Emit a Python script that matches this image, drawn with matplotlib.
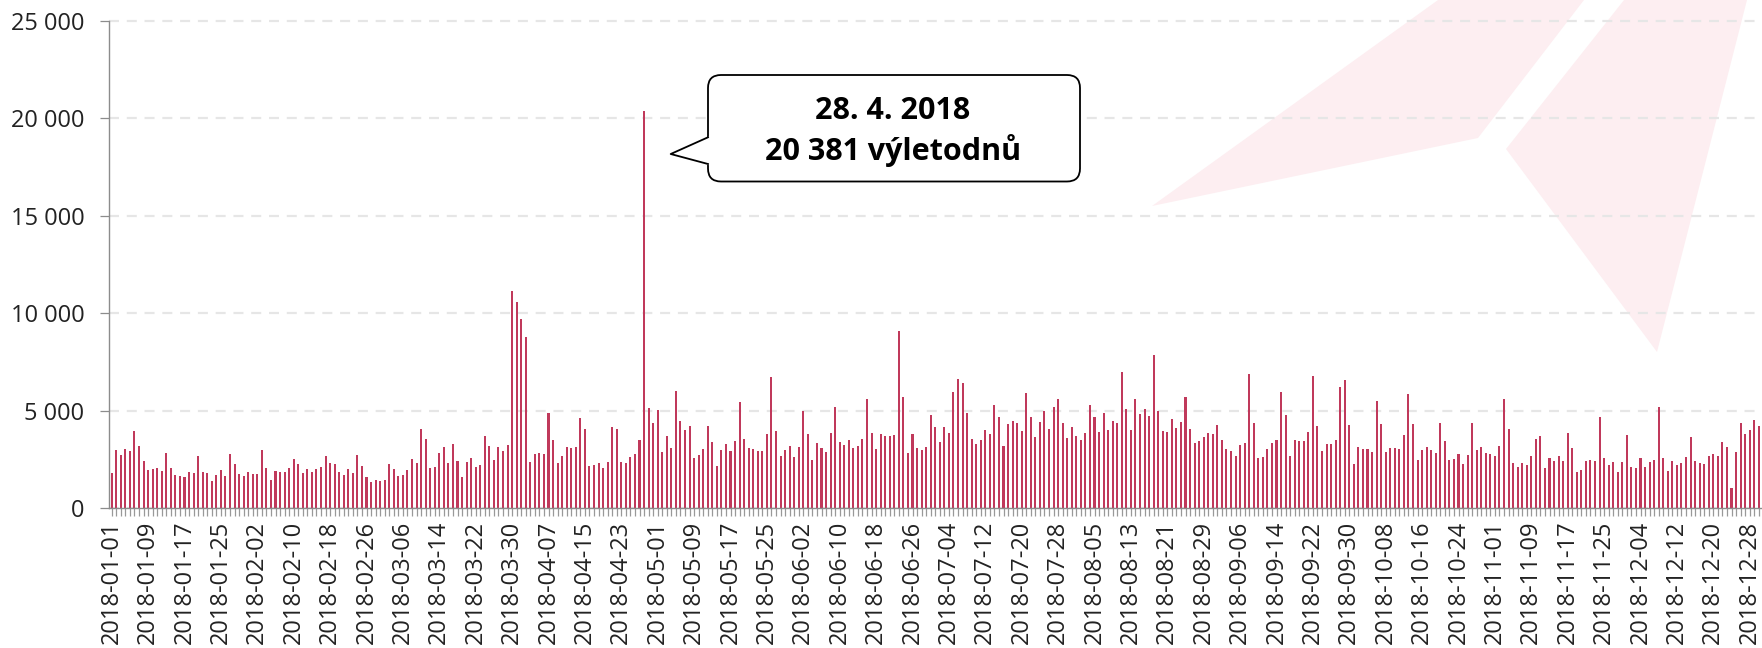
import pandas as pd
import numpy as np
import matplotlib
matplotlib.use('Agg')
import matplotlib.pyplot as plt
from matplotlib.patches import FancyBboxPatch, Polygon
from matplotlib.lines import Line2D

plt.rcParams['font.family'] = ['Open Sans', 'DejaVu Sans']

# Daily visitor-days (výletodny) 2018, one list per month
jan = [1830, 2985, 2725, 3025, 2920, 3940, 3185, 2400, 1980, 1990,
       2070, 1900, 2815, 2080, 1695, 1640, 1605, 1845, 1790, 2680,
       1885, 1790, 1390, 1720, 1955, 1640, 2770, 2260, 1740, 1665, 1865]
feb = [1740, 1740, 3010, 2060, 1460, 1920, 1870, 1850, 2060, 2550,
       2260, 1790, 2040, 1840, 2040, 2130, 2670, 2300, 2260, 1840,
       1700, 2010, 1800, 2720, 2160, 1580, 1360, 1450]
mar = [1380, 1430, 2260, 1990, 1650, 1720, 1970, 2520, 2310, 4050,
       3570, 2090, 2140, 2840, 3160, 2310, 3320, 2450, 1620, 2360,
       2600, 2140, 2210, 3690, 3210, 2470, 3160, 2960, 3230, 11120, 10580]
apr = [9690, 8760, 2350, 2770, 2860, 2810, 4900, 3490, 2330, 2670,
       3160, 3080, 3160, 4630, 4050, 2160, 2210, 2330, 2090, 2380,
       4150, 4050, 2350, 2310, 2620, 2810, 3520, 20381, 5150, 4350]
may = [5030, 2890, 3720, 3080, 6040, 4460, 4000, 4220, 2590, 2720,
       3060, 4200, 3380, 2160, 2990, 3280, 2960, 3450, 5430, 3540,
       3110, 3040, 2930, 2960, 3810, 6730, 3950, 2700, 2990, 3210, 2640]
jun = [3160, 4980, 3830, 2480, 3350, 3110, 2870, 3840, 5220, 3380,
       3230, 3520, 3110, 3210, 3550, 5630, 3840, 3030, 3790, 3690,
       3720, 3740, 9100, 5710, 2820, 3790, 3110, 3010, 3160, 4780]
jul = [4150, 3390, 4180, 3880, 5940, 6630, 6410, 4900, 3570, 3280,
       3520, 4000, 3790, 5290, 4680, 3180, 4340, 4470, 4390, 3980,
       5900, 4690, 3670, 4440, 4980, 4050, 5190, 5580, 4390, 3620, 4180]
aug = [3720, 3490, 3880, 5310, 4690, 3930, 4900, 4030, 4490, 4350,
       7010, 5100, 4030, 5630, 4860, 5070, 4710, 7870, 5000, 3980,
       3930, 4590, 4100, 4420, 5710, 4080, 3370, 3470, 3640, 3880, 3830]
sep = [4290, 3490, 3060, 2940, 2700, 3250, 3370, 6870, 4390, 2600,
       2650, 3060, 3330, 3520, 5970, 4805, 2700, 3520, 3470, 3440,
       3930, 6790, 4220, 2930, 3300, 3320, 3520, 6240, 6580, 4270]
oct_ = [2280, 3160, 3030, 3060, 2910, 5510, 4300, 2870, 3100, 3110,
        3040, 3780, 5880, 4300, 2500, 2980, 3130, 3010, 2860, 4400,
        3440, 2470, 2550, 2760, 2260, 2720, 4400, 2980, 3150, 2860, 2810]
nov = [2700, 3180, 5610, 4060, 2310, 2130, 2300, 2230, 2700, 3550,
       3710, 2070, 2600, 2450, 2700, 2450, 3860, 3080, 1870, 1970,
       2450, 2500, 2400, 4660, 2570, 2210, 2380, 1870, 2380]
dec = [3740, 2140, 2060, 2590, 2130, 2360, 2480, 5220, 2600, 1900,
       2430, 2210, 2300, 2650, 3640, 2400, 2330, 2260, 2670, 2760,
       2690, 3420, 3130, 1020, 2870, 4390, 3790, 4000, 4540, 4230]

months = [jan, feb, mar, apr, may, jun, jul, aug, sep, oct_, nov, dec]

values = []
dates = []
for m, vals in enumerate(months, start=1):
    values += vals
    dates += list(pd.date_range(f'2018-{m:02d}-01', periods=len(vals), freq='D'))
x = np.arange(len(values))

W, H = 1762, 648
fig = plt.figure(figsize=(W / 100, H / 100), dpi=100, facecolor='white')

# Background watermark (light logo shapes)
bg = fig.add_axes([0, 0, 1, 1], zorder=0)
bg.set_xlim(0, W)
bg.set_ylim(H, 0)
bg.axis('off')
bg.add_patch(Polygon([(1152, 206), (1438, 0), (1584, 0), (1478, 138)], closed=True, fc='#fdeef1', ec='none'))
bg.add_patch(Polygon([(1506, 149), (1624, 0), (1747, 0), (1657, 352)], closed=True, fc='#fdeef1', ec='none'))

# Main axes placement
x0_px, step_px, left_px = 111.7, 4.55, 109.3
y0_px, per1000 = 508.3, 19.5
ytop = 25150
top_px = y0_px - ytop / 1000 * per1000
ax = fig.add_axes([left_px / W, 1 - y0_px / H, 1 - left_px / W, (y0_px - top_px) / H], zorder=1)
ax.patch.set_alpha(0)
ax.set_xlim((left_px - x0_px) / step_px, (W - x0_px) / step_px)
ax.set_ylim(0, ytop)

ax.bar(x, values, width=0.45, color='#c0395b', zorder=2)

# Grid + spines
ax.set_axisbelow(True)
ax.yaxis.grid(True, color='#e6e6e6', linewidth=1.6, linestyle=(0, (4.5, 3.5)))
for s in ['top', 'right']:
    ax.spines[s].set_visible(False)
ax.spines['left'].set_bounds(0, 25000)
for s in ['left', 'bottom']:
    ax.spines[s].set_color('#8c8c8c')
    ax.spines[s].set_linewidth(1.0)

# Ticks
yt = list(range(0, 25001, 5000))
ax.set_yticks(yt)
ax.set_yticklabels([f'{v:,}'.replace(',', ' ') for v in yt])
ax.set_xticks(x[::8])
ax.set_xticklabels([d.strftime('%Y-%m-%d') for d in dates[::8]], rotation=90)
ax.set_xticks(x, minor=True)
ax.tick_params(axis='y', length=6.5, width=0.9, color='#8c8c8c', pad=11.5, labelsize=17, labelcolor='#222222')
ax.tick_params(axis='x', which='both', length=5.8, width=0.9, color='#999999', pad=3, labelsize=17, labelcolor='#222222')

# Callout for the peak day
imax = int(np.argmax(values))
dmax = dates[imax]
date_txt = f'{dmax.day}. {dmax.month}. {dmax.year}'
val_txt = f'{values[imax]:,}'.replace(',', ' ') + ' výletodnů'

ov = fig.add_axes([0, 0, 1, 1], zorder=3)
ov.set_xlim(0, W)
ov.set_ylim(H, 0)
ov.axis('off')
ov.add_patch(FancyBboxPatch((708, 75), 372, 106.5, boxstyle='round,pad=0,rounding_size=13',
                            fc='white', ec='black', lw=1.3))
ov.add_patch(Polygon([(710, 136), (670.7, 154), (710, 165.5)], closed=True, fc='white', ec='none', zorder=3))
ov.add_line(Line2D([708, 670.7, 708], [137.3, 154, 164], color='black', lw=1.3, zorder=4))
ov.text(893, 119.3, date_txt, ha='center', va='baseline', fontsize=22, fontweight='bold', color='black', zorder=5)
ov.text(893, 160, val_txt, ha='center', va='baseline', fontsize=22, fontweight='bold', color='black', zorder=5)

plt.savefig('out.png', dpi=100, facecolor='white')
